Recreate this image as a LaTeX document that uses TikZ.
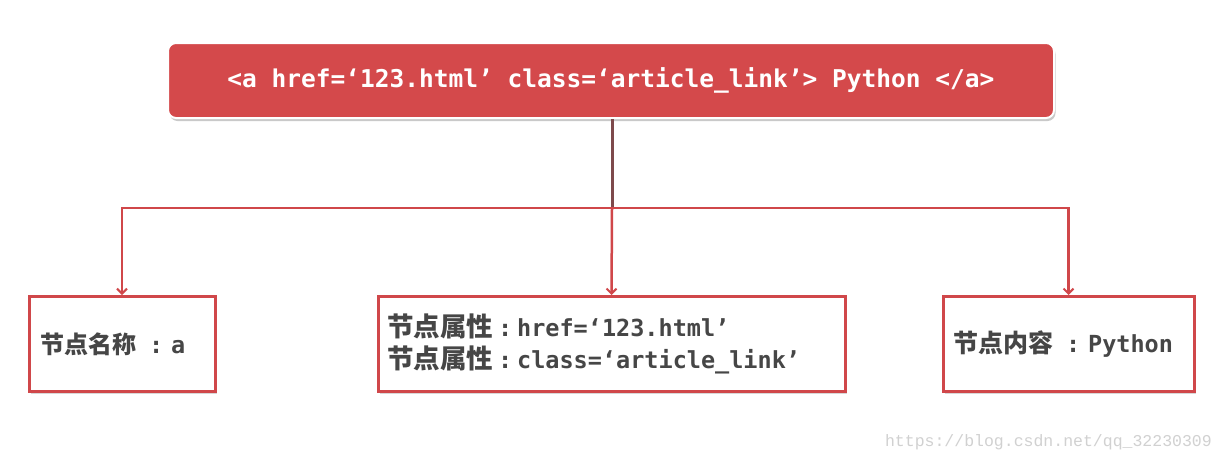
\documentclass[tikz,border=0pt]{standalone}
\usepackage{fontspec}
\setmonofont{DejaVu Sans Mono}
\newfontfamily\cjk{Noto Sans CJK SC}
\newfontfamily\wmfont{Liberation Mono}
\usetikzlibrary{arrows.meta,shadows}
\definecolor{topred}{HTML}{D4494B}
\definecolor{linered}{HTML}{D0474A}
\definecolor{trunk}{HTML}{7E4A4C}
\definecolor{txt}{HTML}{464646}
\newcommand{\mt}[1]{{\fontsize{23.5}{32}\selectfont\ttfamily #1}}
\newcommand{\cln}[2]{\hspace{#1}\mt{:}\hspace{#2}}
\tikzset{
  topbox/.style={draw=white,line width=2pt,fill=topred,rounded corners=8pt,
    minimum width=886pt,minimum height=75pt,inner sep=0pt,
    drop shadow={shadow xshift=1.5pt,shadow yshift=-3pt,fill=black!35,opacity=.6}},
  leafbox/.style={draw=linered,line width=3pt,fill=white,inner ysep=0pt,
    minimum height=95pt,align=left,text=txt,
    drop shadow={shadow xshift=2pt,shadow yshift=-2pt,fill=black!30,opacity=.5}},
  conn/.style={draw=linered,line width=2.5pt,-{Straight Barb[length=5pt,width=10pt,line width=2pt]}},
}
\begin{document}
\begin{tikzpicture}[x=1pt,y=-1pt]
\useasboundingbox[fill=white] (0,0) rectangle (1222,464);
\node[topbox,font=\fontsize{24.5}{30}\selectfont\ttfamily\bfseries,text=white] (top) at (611,80.5) {<a href=‘123.html’ class=‘article\_link’> Python </a>};
\node[leafbox,text width=164pt,inner xsep=11pt,font=\fontsize{24}{28}\selectfont\cjk\bfseries] (l) at (122,344)
  {节点名称\cln{13pt}{8pt}\mt{a}};
\node[leafbox,text width=449pt,inner xsep=9pt,font=\fontsize{26.5}{32}\selectfont\cjk\bfseries] (m) at (611.5,344)
  {节点属性\cln{5pt}{5pt}\mt{href=‘123.html’}\\
   节点属性\cln{5pt}{5pt}\mt{class=‘article\_link’}};
\node[leafbox,text width=231pt,inner xsep=10pt,font=\fontsize{25}{30}\selectfont\cjk\bfseries] (r) at (1068.5,344)
  {节点内容\cln{13pt}{8pt}\mt{Python}};
\coordinate (j) at (612,208);
\draw[trunk,line width=3pt] (top.south -| j) -- (j);
\draw[conn] (j) -| (l.north);
\draw[conn] (j) -| (r.north);
\draw[conn] (j) -- (m.north);
\node[text=black!18,anchor=east,inner sep=0pt,font=\fontsize{16.5}{20}\selectfont\wmfont] (wm) at (1212,442)
  {https://blog.csdn.net/qq\_32230309};
\end{tikzpicture}
\end{document}
